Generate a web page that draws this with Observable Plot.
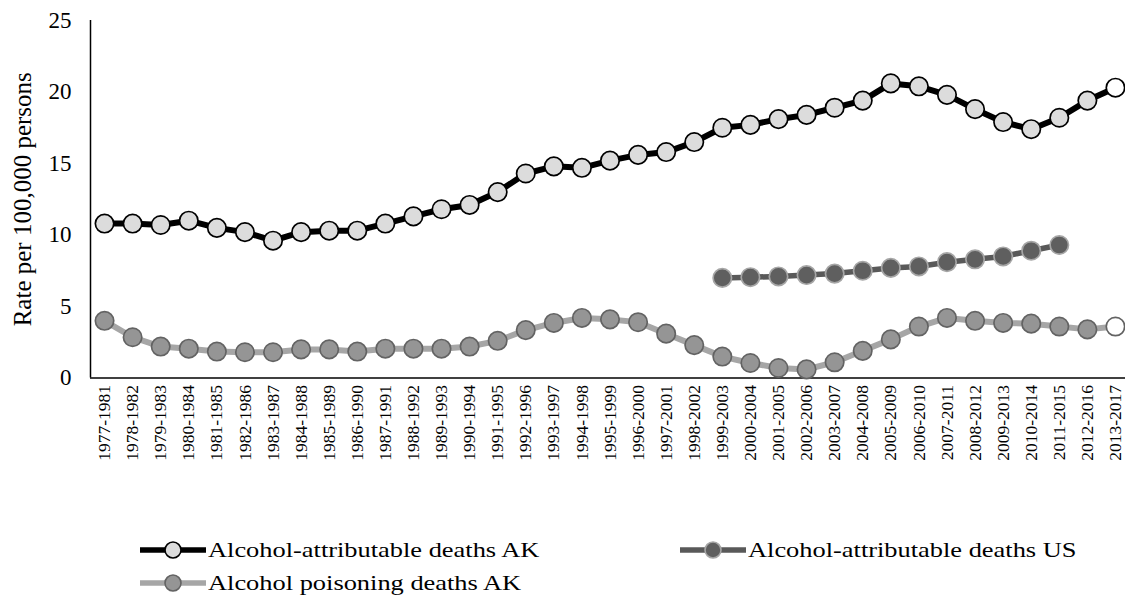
<!DOCTYPE html>
<html>
<head>
<meta charset="utf-8">
<script src="https://cdn.jsdelivr.net/npm/d3@7"></script>
<script src="https://cdn.jsdelivr.net/npm/@observablehq/plot@0.6"></script>
<style>
  body { margin: 0; background: white; }
  #wrap { position: relative; width: 1125px; height: 604px; overflow: hidden; background: white; }
  #wrap svg text { font-family: "Liberation Serif", "Times New Roman", "DejaVu Serif", serif; }
  .leg { position: absolute; display: flex; align-items: center; font-family: "Liberation Serif", "Times New Roman", "DejaVu Serif", serif; font-size: 22px; color: black; white-space: nowrap; }
  .leg svg { display: block; margin-right: 2px; }
  .leg span { display: inline-block; transform: scaleX(1.2); transform-origin: 0 50%; }
</style>
</head>
<body>
<div id="wrap"></div>
<script>
const periods = ["1977-1981","1978-1982","1979-1983","1980-1984","1981-1985","1982-1986","1983-1987","1984-1988","1985-1989","1986-1990","1987-1991","1988-1992","1989-1993","1990-1994","1991-1995","1992-1996","1993-1997","1994-1998","1995-1999","1996-2000","1997-2001","1998-2002","1999-2003","2000-2004","2001-2005","2002-2006","2003-2007","2004-2008","2005-2009","2006-2010","2007-2011","2008-2012","2009-2013","2010-2014","2011-2015","2012-2016","2013-2017"];

const akAttributable = [10.8,10.8,10.7,11.0,10.5,10.2,9.6,10.2,10.3,10.3,10.8,11.3,11.8,12.1,13.0,14.3,14.8,14.7,15.2,15.6,15.8,16.5,17.5,17.7,18.1,18.4,18.9,19.4,20.6,20.4,19.8,18.8,17.9,17.4,18.2,19.4,20.3];

const usAttributable = [null,null,null,null,null,null,null,null,null,null,null,null,null,null,null,null,null,null,null,null,null,null,7.0,7.05,7.1,7.2,7.3,7.5,7.7,7.8,8.1,8.3,8.5,8.9,9.3,null,null];

const akPoisoning = [4.0,2.85,2.2,2.05,1.85,1.8,1.8,2.0,2.0,1.85,2.05,2.05,2.05,2.2,2.6,3.35,3.85,4.2,4.1,3.9,3.1,2.3,1.5,1.05,0.7,0.6,1.1,1.9,2.7,3.6,4.2,4.0,3.85,3.8,3.6,3.4,3.6];

const seriesNames = ["Alcohol-attributable deaths AK","Alcohol-attributable deaths US","Alcohol poisoning deaths AK"];
const yTicks = [0,5,10,15,20,25];
const yLabel = "Rate per 100,000 persons";

const styles = {
  "Alcohol-attributable deaths AK": {line: "#000000", width: 6, fill: "#dcdcdc", stroke: "#000000", lastFill: "#ffffff"},
  "Alcohol-attributable deaths US": {line: "#595959", width: 5.5, fill: "#5f5f5f", stroke: "#a6a6a6", lastFill: null},
  "Alcohol poisoning deaths AK": {line: "#a6a6a6", width: 6, fill: "#959595", stroke: "#636363", lastFill: "#ffffff"}
};

function rows(vals, name) {
  return vals.map((v, i) => ({i, v, name, last: i === vals.length - 1})).filter(d => d.v != null);
}
const dataAK = rows(akAttributable, seriesNames[0]);
const dataUS = rows(usAttributable, seriesNames[1]);
const dataPo = rows(akPoisoning, seriesNames[2]);

function seriesMarks(data, name) {
  const s = styles[name];
  return [
    Plot.line(data, {x: "i", y: "v", stroke: s.line, strokeWidth: s.width}),
    Plot.dot(data, {x: "i", y: "v", r: 9.2, fill: d => (d.last && s.lastFill) ? s.lastFill : s.fill, stroke: s.stroke, strokeWidth: 1.7})
  ];
}

const chart = Plot.plot({
  width: 1125,
  height: 470,
  marginLeft: 90,
  marginRight: 0,
  marginTop: 20,
  marginBottom: 92.5,
  style: {fontFamily: "'Liberation Serif', 'Times New Roman', serif", fontSize: "20px", color: "black", background: "white"},
  color: {type: "identity"},
  x: {type: "linear", domain: [-0.5, periods.length - 0.5], range: [90, 1129], axis: null},
  y: {domain: [0, 25], axis: null},
  marks: [
    Plot.axisY({ticks: yTicks, tickSize: 0, tickPadding: 19, fontSize: 23, label: null}),
    Plot.text([yLabel], {frameAnchor: "left", textAnchor: "middle", rotate: -90, dx: -68, fontSize: 25}),
    Plot.axisX({ticks: d3.range(periods.length), tickFormat: i => periods[i], tickRotate: -90, tickSize: 0, tickPadding: 7, fontSize: 17.5, label: null}),
    Plot.ruleX([-0.5], {stroke: "black", strokeWidth: 1.5}),
    Plot.ruleY([0], {stroke: "black", strokeWidth: 1.5}),
    ...seriesMarks(dataPo, seriesNames[2]),
    ...seriesMarks(dataUS, seriesNames[1]),
    ...seriesMarks(dataAK, seriesNames[0])
  ]
});
const wrap = document.getElementById("wrap");
wrap.appendChild(chart);

// legend
const legendPos = [
  {name: seriesNames[0], left: 140, top: 537},
  {name: seriesNames[1], left: 680, top: 537},
  {name: seriesNames[2], left: 140, top: 570}
];
for (const p of legendPos) {
  const s = styles[p.name];
  const div = document.createElement("div");
  div.className = "leg";
  div.style.left = p.left + "px";
  div.style.top = p.top + "px";
  div.innerHTML = `<svg width="66" height="26"><line x1="0" x2="66" y1="13" y2="13" stroke="${s.line}" stroke-width="5.5"/><circle cx="33" cy="13" r="8" fill="${s.fill}" stroke="${s.stroke}" stroke-width="1.6"/></svg><span>${p.name}</span>`;
  wrap.appendChild(div);
}
</script>
</body>
</html>
